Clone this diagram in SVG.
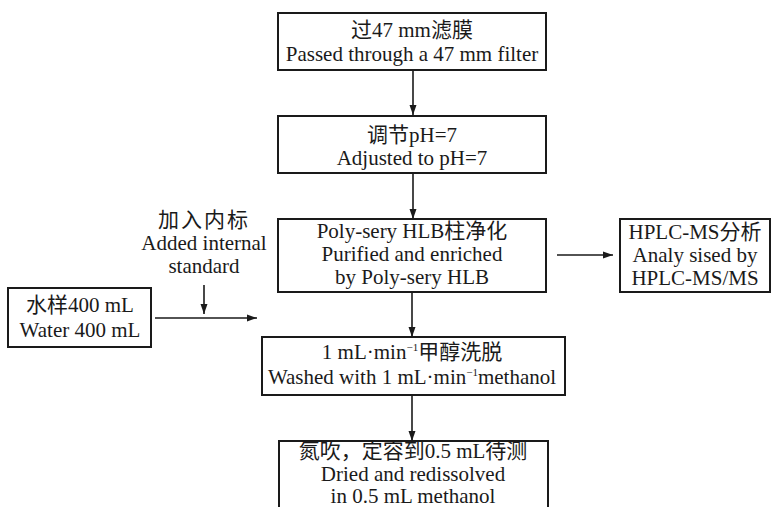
<svg xmlns="http://www.w3.org/2000/svg" width="772" height="507" viewBox="0 0 772 507">
<defs>
<marker id="ah" viewBox="0 0 10 10" refX="10" refY="5" markerWidth="10" markerHeight="10" markerUnits="userSpaceOnUse" orient="auto">
<path d="M0,1.5 L10,5 L0,8.5 Z" fill="#1a1a1a"/>
</marker>
<style>
.box{fill:#fff;stroke:#1a1a1a;stroke-width:2}
.t{font-family:"Liberation Serif","Noto Sans CJK SC",serif;font-size:21px;fill:#1a1a1a;text-anchor:middle}
.c{stroke:#1a1a1a;stroke-width:1.6;fill:none;marker-end:url(#ah)}
.sup{font-size:11px}
</style>
</defs>
<rect width="772" height="507" fill="#fff"/>
<g id="connectors">
<line class="c" x1="413" y1="70" x2="413" y2="115"/>
<line class="c" x1="413" y1="173" x2="413" y2="219"/>
<line class="c" x1="412" y1="292" x2="412" y2="337"/>
<line class="c" x1="412" y1="395" x2="412" y2="441"/>
<line class="c" x1="557" y1="255" x2="613" y2="255"/>
<line class="c" x1="155" y1="318" x2="257" y2="318"/>
<line class="c" x1="204" y1="285" x2="204" y2="314"/>
</g>
<g id="n1">
<rect class="box" x="278" y="13" width="268" height="57"/>
<text class="t" x="412" y="37">过47 mm滤膜</text>
<text class="t" x="412" y="61">Passed through a 47 mm filter</text>
</g>
<g id="n2">
<rect class="box" x="278" y="116" width="268" height="57"/>
<text class="t" x="412" y="142">调节pH=7</text>
<text class="t" x="412" y="165">Adjusted to pH=7</text>
</g>
<g id="n3">
<rect class="box" x="278" y="219" width="268" height="73"/>
<text class="t" x="412" y="238">Poly-sery HLB柱净化</text>
<text class="t" x="412" y="261">Purified and enriched</text>
<text class="t" x="412" y="284">by Poly-sery HLB</text>
</g>
<g id="n4">
<rect class="box" x="620" y="219" width="150" height="73"/>
<text class="t" x="695" y="239">HPLC-MS分析</text>
<text class="t" x="695" y="262">Analy sised by</text>
<text class="t" x="695" y="285">HPLC-MS/MS</text>
</g>
<g id="n5">
<rect class="box" x="8" y="288" width="143" height="59"/>
<text class="t" x="80" y="312">水样400 mL</text>
<text class="t" x="80" y="337">Water 400 mL</text>
</g>
<g id="n6">
<text class="t" x="204" y="227" letter-spacing="2">加入内标</text>
<text class="t" x="204" y="250">Added internal</text>
<text class="t" x="204" y="273">standard</text>
</g>
<g id="n7">
<rect class="box" x="262" y="337" width="303" height="58"/>
<text class="t" x="412" y="359">1 mL·min<tspan class="sup" dy="-8">−1</tspan><tspan dy="8">甲醇洗脱</tspan></text>
<text class="t" x="412" y="384">Washed with 1 mL·min<tspan class="sup" dy="-8">−1</tspan><tspan dy="8">methanol</tspan></text>
</g>
<g id="n8">
<rect class="box" x="279" y="441" width="269" height="80"/>
<text class="t" x="413" y="458">氮吹，定容到0.5 mL待测</text>
<text class="t" x="413" y="481">Dried and redissolved</text>
<text class="t" x="413" y="503">in 0.5 mL methanol</text>
</g>
</svg>
